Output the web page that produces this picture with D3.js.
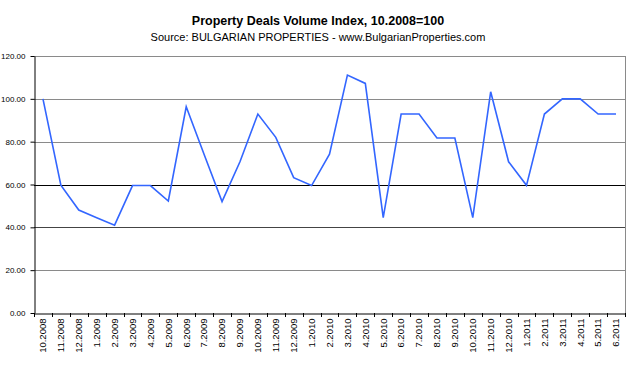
<!DOCTYPE html>
<html><head><meta charset="utf-8">
<script src="https://cdn.jsdelivr.net/npm/d3@7"></script>
<style>body{margin:0;background:#fff}svg{display:block}</style>
</head><body>
<svg id="c" width="640" height="366"></svg>
<script>
const categories = ["10.2008","11.2008","12.2008","1.2009","2.2009","3.2009","4.2009","5.2009","6.2009","7.2009","8.2009","9.2009","10.2009","11.2009","12.2009","1.2010","2.2010","3.2010","4.2010","5.2010","6.2010","7.2010","8.2010","9.2010","10.2010","11.2010","12.2010","1.2011","2.2011","3.2011","4.2011","5.2011","6.2011"];
const values = [100,59.7,48.1,44.5,41,59.5,59.5,52.3,96.3,74,52,70.6,92.9,82,63.2,59.5,74.2,111.1,107.2,44.5,92.9,92.9,81.7,81.7,44.5,103.3,70.6,59.6,92.9,100,100,92.9,92.9];
const yTicks = [0,20,40,60,80,100,120];
const title = "Property Deals Volume Index, 10.2008=100";
const subtitle = "Source: BULGARIAN PROPERTIES - www.BulgarianProperties.com";

const svg = d3.select("#c");
const m = {l:34, r:625, t:56, b:313};
const x = d3.scaleBand().domain(categories).range([m.l, m.r]);
const y = d3.scaleLinear().domain([0,120]).range([m.b, m.t]);
const font = "Arial, 'Liberation Sans', sans-serif";

svg.append("text").attr("x",318).attr("y",25).attr("text-anchor","middle")
  .attr("font-family",font).attr("font-weight","bold").attr("font-size",12.5).text(title);
svg.append("text").attr("x",318).attr("y",41).attr("text-anchor","middle")
  .attr("font-family",font).attr("font-size",11).text(subtitle);

const gridColor = v => (v===60 ? "#000" : v===40 ? "#444" : "#8a8a8a");
svg.append("g").selectAll("line").data(yTicks.filter(v=>v>0)).join("line")
  .attr("x1",m.l).attr("x2",m.r).attr("y1",d=>Math.round(y(d))+0.5).attr("y2",d=>Math.round(y(d))+0.5)
  .attr("stroke",gridColor).attr("stroke-width",1);
svg.append("line").attr("x1",m.r+0.5).attr("x2",m.r+0.5).attr("y1",m.t).attr("y2",m.b)
  .attr("stroke","#8a8a8a");

const yAxis = svg.append("g").attr("transform",`translate(${m.l+0.5},0)`)
  .call(d3.axisLeft(y).tickValues(yTicks).tickFormat(d3.format(".2f")).tickSize(4).tickSizeOuter(0));
yAxis.select(".domain").attr("stroke","#000");
yAxis.selectAll(".tick text").attr("font-family",font).attr("font-size",8).attr("fill","#000").attr("dx",-2);

const xAxis = svg.append("g").attr("transform",`translate(0,${m.b+0.5})`)
  .call(d3.axisBottom(x).tickSize(0).tickSizeOuter(0));
xAxis.select(".domain").attr("stroke","#000");
xAxis.selectAll(".tick text").attr("font-family",font).attr("font-size",9.5).attr("fill","#000")
  .attr("transform","rotate(-90)").attr("text-anchor","end").attr("x",-5).attr("y",0).attr("dy","0.35em");
// boundary ticks between categories
const bounds = categories.map(c=>x(c)).concat([m.r]);
svg.append("g").selectAll("line").data(bounds).join("line")
  .attr("x1",d=>Math.round(d)+0.5).attr("x2",d=>Math.round(d)+0.5).attr("y1",m.b).attr("y2",m.b+4)
  .attr("stroke","#000");

const line = d3.line().x((d,i)=>x(categories[i])+x.bandwidth()/2).y(d=>y(d));
svg.append("path").datum(values).attr("d",line).attr("fill","none")
  .attr("stroke","#3366ff").attr("stroke-width",1.6).attr("stroke-linejoin","miter");
</script>
</body></html>
